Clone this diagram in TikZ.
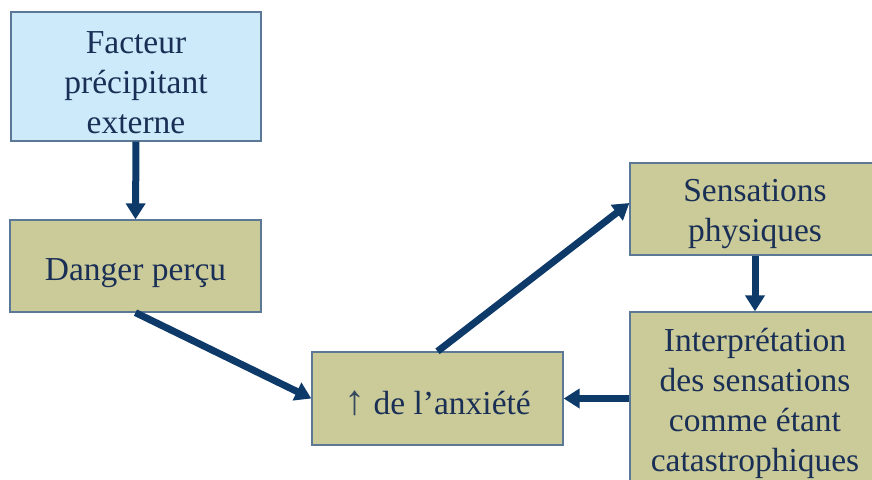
\documentclass[tikz,border=0pt]{standalone}
\usepackage{fontspec}
\setmainfont{Liberation Serif}
\usetikzlibrary{arrows.meta}
\definecolor{boxolive}{HTML}{CBCB9A}
\definecolor{boxblue}{HTML}{CDEAFB}
\definecolor{boxedge}{HTML}{5B7896}
\definecolor{navy}{HTML}{0E3A6A}
\definecolor{textnavy}{HTML}{1A2F55}
\definecolor{arrowgrey}{HTML}{34495E}
% lower the text inside a box without changing the box size
\newcommand{\lowertext}[2]{\raisebox{-#1}[\height][\depth]{#2}}
\begin{document}
\begin{tikzpicture}[x=1pt,y=-1pt,
  stepbox/.style={draw=boxedge,line width=1.3pt,fill=boxolive,
    text=textnavy,align=center,inner sep=0pt,
    font=\fontsize{33.5}{40}\selectfont},
  flow/.style={draw=navy,line width=7pt,
    -{Triangle[width=19pt,length=16pt]}}]
\useasboundingbox (0,0) rectangle (872,479);
\clip (0,0) rectangle (872,479);

\node[stepbox,fill=boxblue,minimum width=250pt,minimum height=129pt]
  (facteur) at (136,76.5) {\lowertext{6pt}{\parbox{240pt}{\centering Facteur\\précipitant\\externe}}};
\node[stepbox,minimum width=251pt,minimum height=92pt]
  (danger) at (135.5,266) {\lowertext{7pt}{Danger perçu}};
\node[stepbox,minimum width=251pt,minimum height=93pt]
  (anxiete) at (437.5,398.5) {\lowertext{5pt}{{\color{arrowgrey}\fontsize{42}{42}\selectfont ↑} de l’anxiété}};
\node[stepbox,minimum width=250pt,minimum height=92pt]
  (sensations) at (755,209) {\lowertext{5pt}{\parbox{240pt}{\centering Sensations\\physiques}}};
\node[stepbox,minimum width=250pt,minimum height=176pt]
  (interp) at (755,400) {\lowertext{3pt}{\parbox{245pt}{\centering Interprétation\\des sensations\\comme étant\\catastrophiques}}};

\draw[flow] (facteur.south) -- (danger.north);
\draw[flow] (danger.south) -- (anxiete.west);
\draw[flow] (anxiete.north) -- ([yshift=6pt]sensations.west);
\draw[flow] (sensations.south) -- (interp.north);
\draw[flow] (interp.west |- anxiete.east) -- (anxiete.east);
\end{tikzpicture}
\end{document}
